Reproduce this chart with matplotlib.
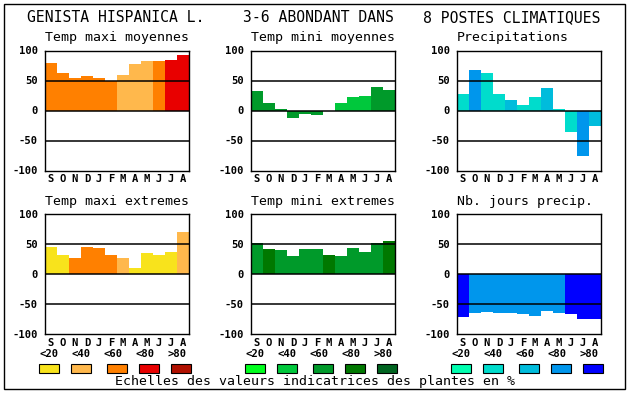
import matplotlib
matplotlib.use('Agg')
import matplotlib.pyplot as plt
from matplotlib.patches import Rectangle

W, H = 630, 394

#Month labels (September to August)
months = ['S', 'O', 'N', 'D', 'J', 'F', 'M', 'A', 'M', 'J', 'J', 'A']
classes = ['<20', '<40', '<60', '<80', '>80']

#Colour scales for each family of panels
warm = ['#f8e31c', '#ffb84c', '#ff8000', '#e80000', '#b01000']
green = ['#00ff1e', '#00c83c', '#009a2a', '#007800', '#006420']
blue = ['#00ffb0', '#00dccc', '#00bcdc', '#0096ec', '#0000ff']

#Values, plus the class index of each bar
tmax_moy = [80, 63, 55, 57, 55, 50, 60, 77, 83, 83, 85, 92]
tmax_moy_cls = [2, 2, 2, 2, 2, 2, 1, 1, 1, 2, 3, 3]

tmin_moy = [32, 13, 3, -12, -6, -8, 0, 12, 22, 25, 40, 35]
tmin_moy_cls = [2, 2, 2, 2, 2, 2, 2, 1, 1, 1, 2, 2]

precip = [27, 67, 62, 27, 17, 10, 22, 37, 2, -35, -75, -25]
precip_cls = [1, 3, 1, 1, 2, 1, 1, 2, 1, 1, 3, 2]

tmax_ext = [45, 32, 27, 45, 44, 32, 27, 10, 35, 32, 37, 70]
tmax_ext_cls = [0, 0, 2, 2, 2, 2, 1, 0, 0, 0, 0, 1]

tmin_ext = [52, 42, 40, 30, 42, 42, 32, 30, 44, 37, 52, 55]
tmin_ext_cls = [2, 3, 2, 2, 2, 2, 3, 2, 2, 2, 2, 3]

jours = [-72, -64, -63, -64, -64, -66, -70, -62, -64, -66, -74, -74]
jours_cls = [4, 3, 3, 3, 3, 3, 3, 3, 3, 4, 4, 4]

panels = [
    ('Temp maxi moyennes', tmax_moy, tmax_moy_cls, warm, 45, 50.5),
    ('Temp mini moyennes', tmin_moy, tmin_moy_cls, green, 251, 50.5),
    ('Precipitations', precip, precip_cls, blue, 457, 50.5),
    ('Temp maxi extremes', tmax_ext, tmax_ext_cls, warm, 45, 214.3),
    ('Temp mini extremes', tmin_ext, tmin_ext_cls, green, 251, 214.3),
    ('Nb. jours precip.', jours, jours_cls, blue, 457, 214.3),
]

mono = 'DejaVu Sans Mono'
small = 7.6

fig = plt.figure(figsize=(W / 100, H / 100), dpi=100)
fig.patch.set_facecolor('white')

#Outer frame
fig.add_artist(Rectangle((4 / W, 1 - 389 / H), 621 / W, 385 / H,
                         transform=fig.transFigure, fill=False,
                         edgecolor='black', linewidth=1))

#Top titles
fig.text(27 / W, 1 - 18 / H, 'GENISTA HISPANICA L.', family=mono, fontsize=10.6, va='center')
fig.text(243 / W, 1 - 18 / H, '3-6 ABONDANT DANS', family=mono, fontsize=10.6, va='center')
fig.text(423 / W, 1 - 18 / H, '8 POSTES CLIMATIQUES', family=mono, fontsize=10.6, va='center')

for title, vals, cls, pal, left, top in panels:
    ax = fig.add_axes([left / W, 1 - (top + 120) / H, 144 / W, 120 / H])
    ax.bar(range(12), vals, width=1.0, color=[pal[c] for c in cls], linewidth=0, zorder=1)
    for y in (-50, 0, 50):
        ax.axhline(y, color='black', linewidth=1.1, zorder=2)
    ax.set_xlim(-0.5, 11.5)
    ax.set_ylim(-100, 100)
    ax.set_yticks([-100, -50, 0, 50, 100])
    ax.set_yticklabels(['-100', '-50', '0', '50', '100'], family=mono, fontsize=small, fontweight='bold')
    ax.set_xticks(range(12))
    ax.set_xticklabels(months, family=mono, fontsize=small, fontweight='bold')
    ax.tick_params(length=0)
    ax.tick_params(axis='y', pad=5)
    ax.tick_params(axis='x', pad=2.5)
    for s in ax.spines.values():
        s.set_linewidth(1.0)
    fig.text(left / W, 1 - (top - 13) / H, title, family=mono, fontsize=9.5, va='center')

    #Legend under the bottom row
    if top > 200:
        for i, lab in enumerate(classes):
            fig.text((left + 4 + 32 * i) / W, 1 - 354 / H, lab, family=mono,
                     fontsize=small, fontweight='bold', ha='center', va='center')
        for i, dx in enumerate([-6, 26, 62, 94, 126]):
            fig.add_artist(Rectangle(((left + dx) / W, 1 - 373 / H), 20 / W, 9 / H,
                                     transform=fig.transFigure, facecolor=pal[i],
                                     edgecolor='black', linewidth=0.8))

fig.text(115 / W, 1 - 382 / H, 'Echelles des valeurs indicatrices des plantes en %',
         family=mono, fontsize=9.5, va='center')

fig.savefig('out.png', dpi=100)
